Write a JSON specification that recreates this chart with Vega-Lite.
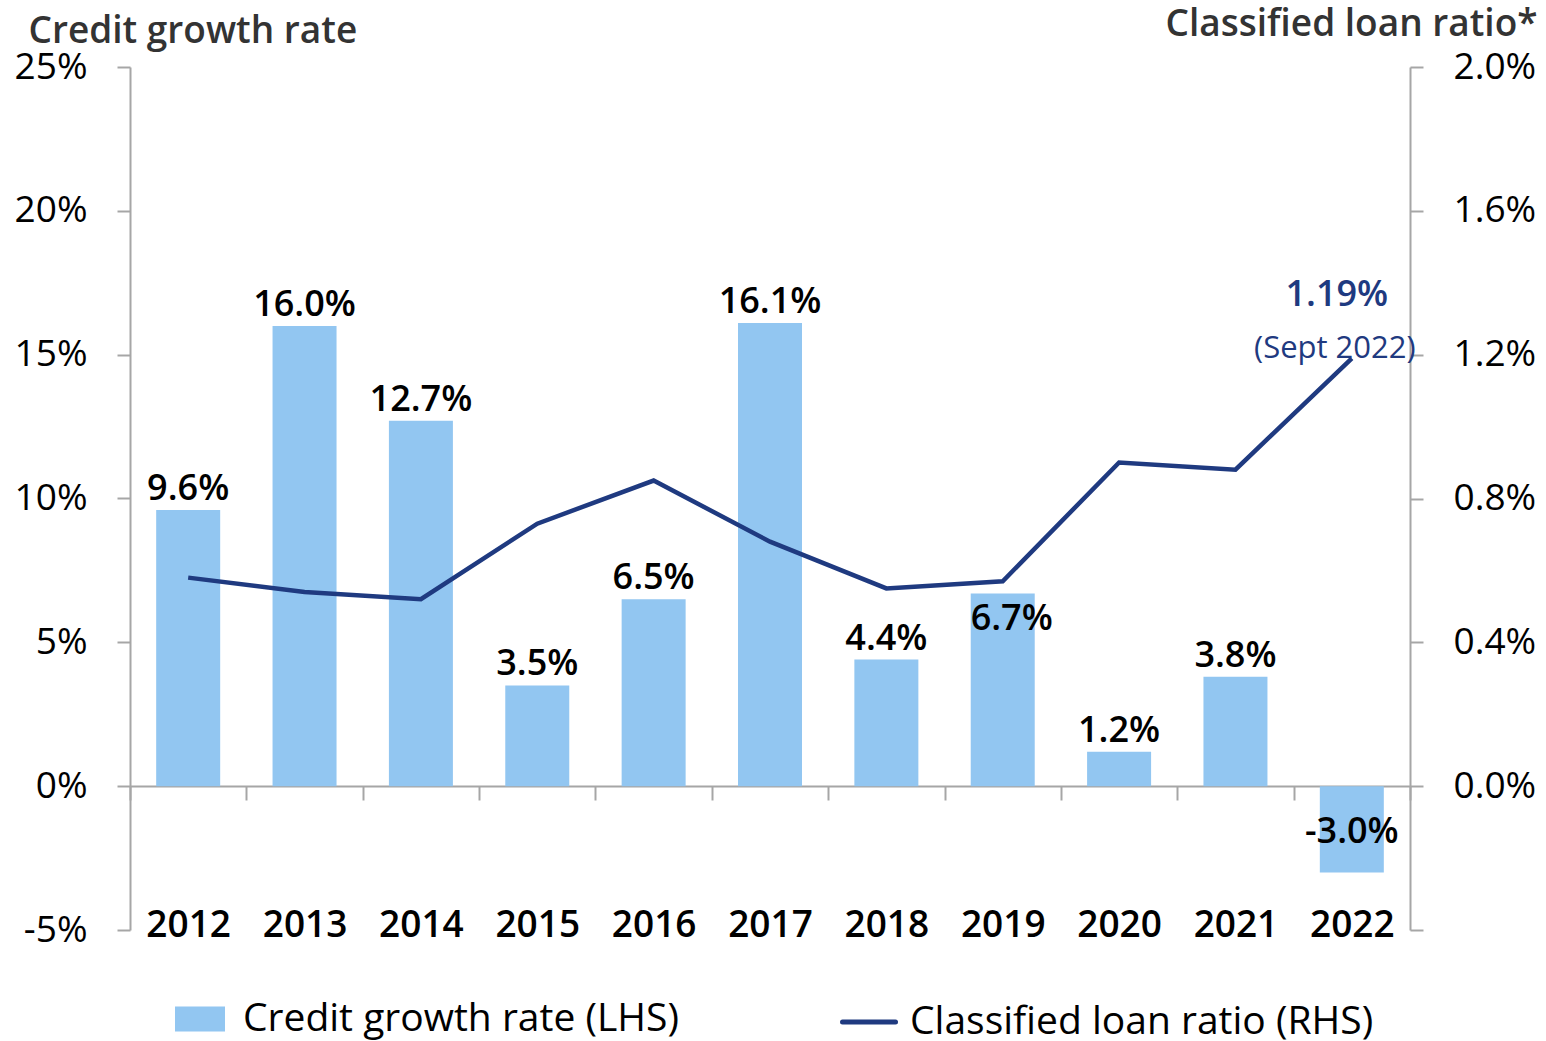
{
  "$schema": "https://vega.github.io/schema/vega-lite/v6.json",
  "width": 1280,
  "height": 863,
  "autosize": {"type": "none"},
  "padding": {"left": 130, "top": 67, "right": 136, "bottom": 111},
  "background": "white",
  "config": {
    "locale": {"number": {"decimal": ".", "thousands": ",", "grouping": [3], "currency": ["$", ""], "minus": "-"}},
    "view": {"stroke": null},
    "font": "Open Sans",
    "axis": {
      "domainColor": "#A6A6A6",
      "tickColor": "#A6A6A6",
      "domainWidth": 2,
      "tickWidth": 2,
      "labelColor": "#000000",
      "labelFont": "Open Sans",
      "labelFontSize": 37,
      "labelFontWeight": 500,
      "grid": false,
      "labelFlush": false,
      "labelOverlap": false,
      "labelBound": false,
      "titleFont": "Open Sans",
      "titleColor": "#333333",
      "titleFontSize": 37,
      "titleFontWeight": 600
    },
    "legend": {
      "labelFont": "Open Sans",
      "labelFontSize": 39,
      "labelColor": "#000000",
      "labelLimit": 800,
      "padding": 0
    }
  },
  "data": {
    "values": [
      {"year": 2012, "credit": 0.096, "clr": 0.0058},
      {"year": 2013, "credit": 0.160, "clr": 0.0054},
      {"year": 2014, "credit": 0.127, "clr": 0.0052},
      {"year": 2015, "credit": 0.035, "clr": 0.0073},
      {"year": 2016, "credit": 0.065, "clr": 0.0085},
      {"year": 2017, "credit": 0.161, "clr": 0.0068},
      {"year": 2018, "credit": 0.044, "clr": 0.0055},
      {"year": 2019, "credit": 0.067, "clr": 0.0057},
      {"year": 2020, "credit": 0.012, "clr": 0.0090},
      {"year": 2021, "credit": 0.038, "clr": 0.0088},
      {"year": 2022, "credit": -0.030, "clr": 0.0119}
    ]
  },
  "layer": [
    {
      "encoding": {
        "x": {
          "field": "year", "type": "ordinal",
          "scale": {"paddingInner": 0, "paddingOuter": 0},
          "axis": {
            "orient": "bottom", "offset": -144, "domain": true,
            "tickBand": "extent", "tickSize": 14, "labelPadding": 107,
            "labelFontWeight": 600, "labelAngle": 0, "title": null
          }
        },
        "y": {
          "field": "credit", "type": "quantitative",
          "scale": {"domain": [-0.05, 0.25], "nice": false, "zero": false},
          "axis": {
            "values": [-0.05, 0, 0.05, 0.1, 0.15, 0.2, 0.25],
            "format": ".0%",
            "tickSize": 13, "labelPadding": 30,
            "title": "Credit growth rate",
            "titleAngle": 0, "titleAlign": "left", "titleBaseline": "alphabetic",
            "titleX": -102, "titleY": -25
          }
        }
      },
      "layer": [
        {
          "mark": {"type": "bar", "width": {"band": 0.55}, "color": "#92C6F1"},
          "encoding": {
            "fill": {
              "datum": "Credit growth rate (LHS)",
              "scale": {"range": ["#92C6F1"]},
              "legend": {
                "orient": "none", "legendX": 45, "legendY": 927, "title": null,
                "symbolType": "M-1,-0.5H1V0.5H-1Z", "symbolSize": 2500,
                "symbolStrokeWidth": 0, "labelOffset": 18
              }
            }
          }
        },
        {
          "transform": [{"filter": "datum.year != 2019 && datum.year != 2022"}],
          "mark": {"type": "text", "fontSize": 36, "fontWeight": 600, "color": "#000000", "baseline": "alphabetic", "dy": -10},
          "encoding": {
            "text": {"field": "credit", "type": "quantitative", "format": ".1%"}
          }
        },
        {
          "transform": [{"filter": "datum.year == 2019"}],
          "mark": {"type": "text", "fontSize": 36, "fontWeight": 600, "color": "#000000", "baseline": "alphabetic", "dy": 37, "dx": 9},
          "encoding": {
            "text": {"field": "credit", "type": "quantitative", "format": ".1%"}
          }
        },
        {
          "transform": [{"filter": "datum.year == 2022"}],
          "mark": {"type": "text", "fontSize": 36, "fontWeight": 600, "color": "#000000", "baseline": "alphabetic", "dy": -29},
          "encoding": {
            "text": {"field": "credit", "type": "quantitative", "format": ".1%"}
          }
        }
      ]
    },
    {
      "encoding": {
        "x": {"field": "year", "type": "ordinal"},
        "y": {
          "field": "clr", "type": "quantitative",
          "scale": {"domain": [-0.004, 0.02], "nice": false, "zero": false},
          "axis": {
            "orient": "right",
            "values": [-0.004, 0, 0.004, 0.008, 0.012, 0.016, 0.02],
            "format": ".1%",
            "labelExpr": "datum.value < -0.001 ? '' : datum.label",
            "tickSize": 13, "labelPadding": 30,
            "title": "Classified loan ratio*",
            "titleAngle": 0, "titleAlign": "right", "titleBaseline": "alphabetic",
            "titleX": 127, "titleY": -32
          }
        }
      },
      "layer": [
        {
          "mark": {"type": "line", "color": "#1F3A80", "strokeWidth": 4.5},
          "encoding": {
            "stroke": {
              "datum": "Classified loan ratio (RHS)",
              "scale": {"range": ["#1F3A80"]},
              "legend": {
                "orient": "none", "legendX": 710, "legendY": 926, "title": null,
                "symbolType": "stroke", "symbolSize": 2809,
                "symbolStrokeWidth": 5, "labelOffset": 12,
                "encode": {"symbols": {"update": {"strokeCap": {"value": "round"}}}}
              }
            }
          }
        },
        {
          "transform": [{"filter": "datum.year == 2022"}],
          "mark": {"type": "text", "fontSize": 36, "fontWeight": 600, "color": "#1F3A80", "baseline": "alphabetic", "dx": -15, "dy": -52},
          "encoding": {
            "text": {"field": "clr", "type": "quantitative", "format": ".2%"}
          }
        },
        {
          "transform": [{"filter": "datum.year == 2022"}],
          "mark": {"type": "text", "text": "(Sept 2022)", "fontSize": 31, "fontWeight": 400, "color": "#1F3A80", "baseline": "alphabetic", "dx": -17, "dy": 0}
        }
      ]
    }
  ],
  "resolve": {"scale": {"y": "independent"}}
}
